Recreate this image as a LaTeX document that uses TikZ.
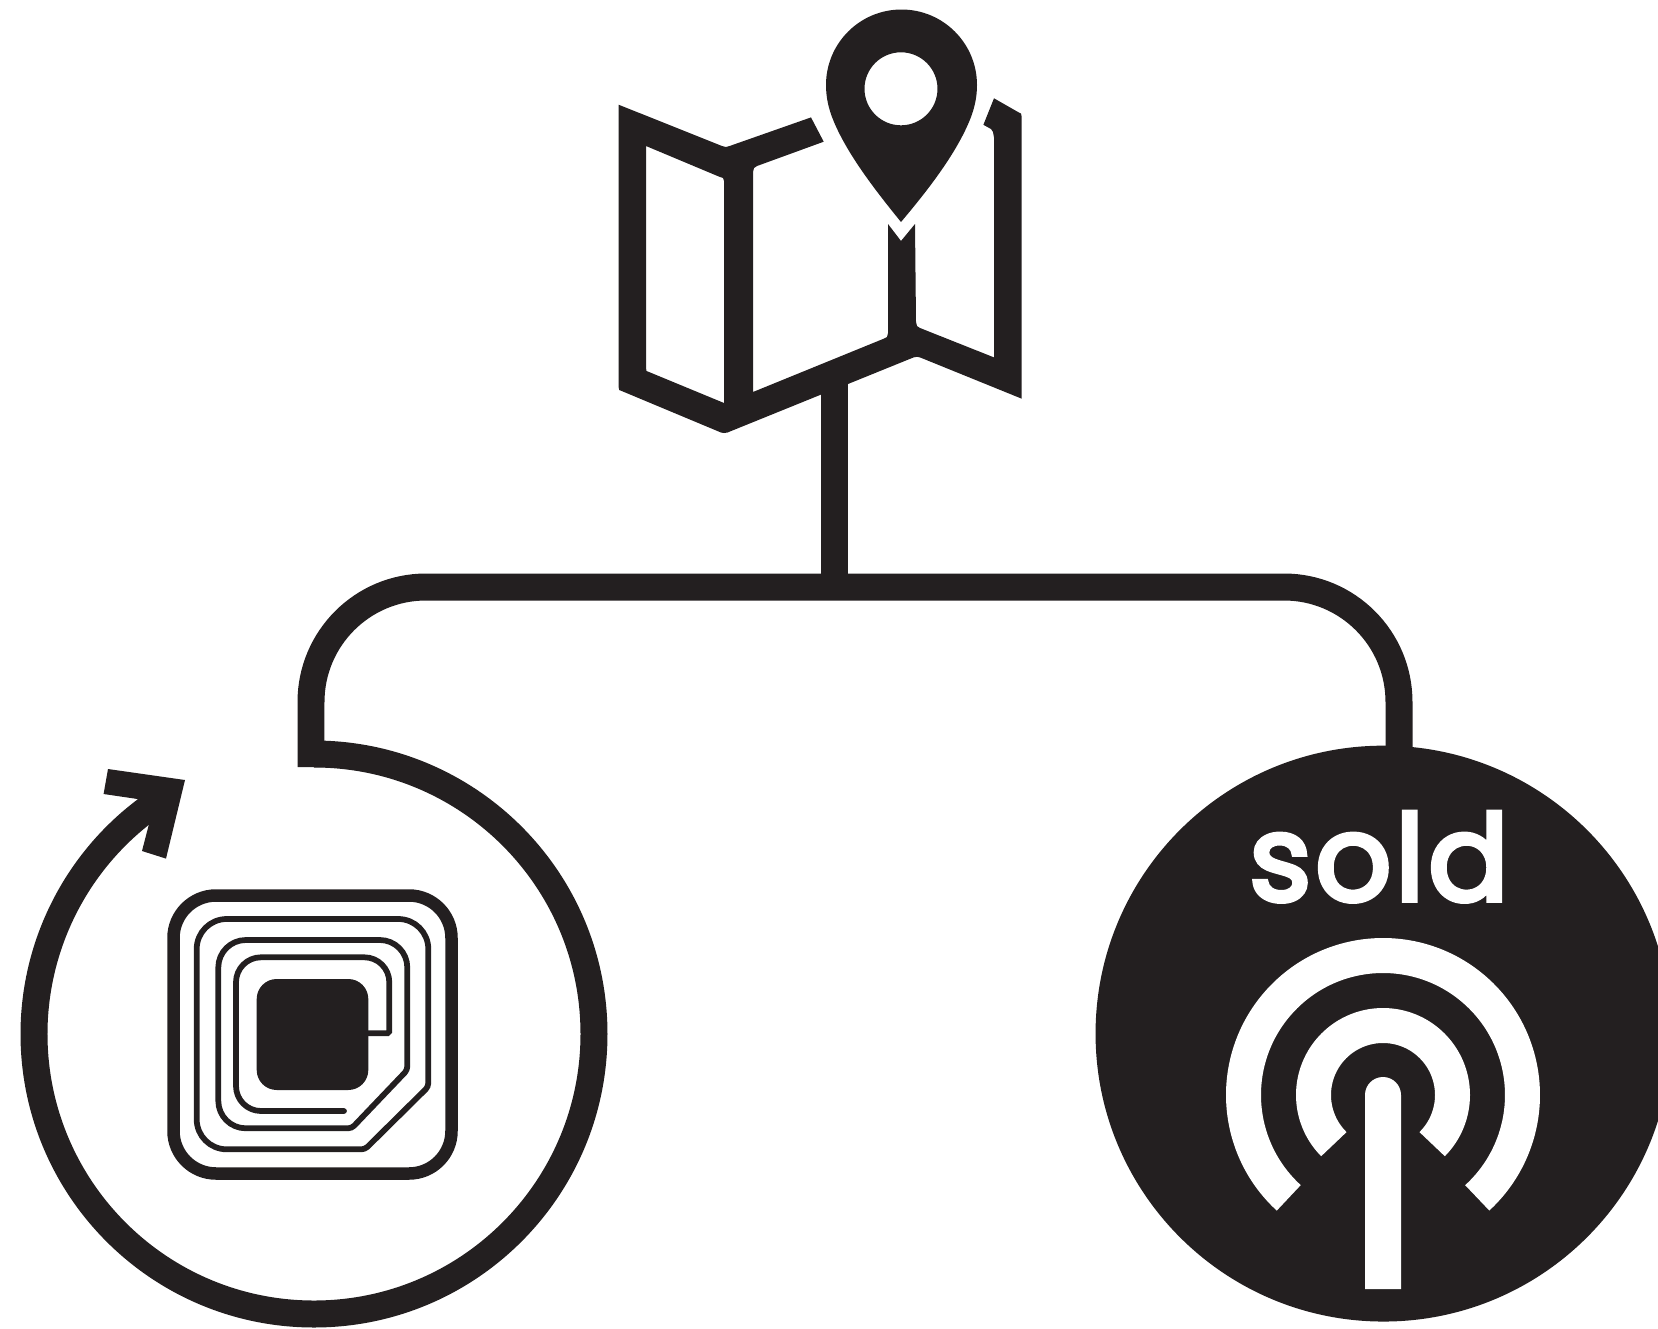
\documentclass[tikz,border=0pt]{standalone}
\usepackage{fontspec}
\usetikzlibrary{arrows.meta,calc,positioning}
\newfontfamily\soldfont[FakeBold=4,LetterSpace=3]{Poppins}
\definecolor{ink}{HTML}{231F20}
\tikzset{
  wire/.style={draw=ink,line width=0.54cm},
  inkfill/.style={fill=ink,draw=none},
  coilline/.style={draw=ink,line width=0.115cm,line cap=round},
  wavearc/.style={draw=white,line width=0.7cm}
}
\begin{document}
\begin{tikzpicture}[x=0.02cm,y=-0.02cm]
      \useasboundingbox (0,0) rectangle (1658,1329);
      % Map with folds
      \fill[ink,even odd rule] (618.6,104.7) -- (722,146) -- (726,147) -- (729.6,146) -- (811,117.4) -- (823.7,141.7)
        -- (757,166) -- (754,168) -- (753,172) -- (753,392) -- (883,339) -- (887,337) -- (888,333) -- (888,224) -- (901,241)
        -- (915,224) -- (916,322) -- (917,326) -- (920,328) -- (994,357.4) -- (994,137.5) -- (993,132) -- (991,129) -- (983.4,124.8)
        -- (994,98.3) -- (1018,112) -- (1021,113.5) -- (1021.5,116) -- (1021.5,398.6) -- (920,357.4) -- (917,356.8) -- (913.6,357.4)
        -- (848,384) -- (820,395) -- (727.5,432.5) -- (724,433) -- (721,432.5) -- (621.7,391) -- (619.2,390) -- (618.6,387) -- cycle
        (646,146) -- (719,176.6) -- (723,178) -- (724,181) -- (724,403) -- (649,372) -- (646.5,371) -- (646,368) -- cycle;
      % Pin on the map
      \fill[ink,even odd rule] (901,222) .. controls (875,190) and (848,155) .. (834,122)
        .. controls (828,108) and (826,96) .. (826,85) arc (180:360:75.5)
        .. controls (977,96) and (975,108) .. (969,122) .. controls (955,155) and (928,190) .. (901,222) -- cycle
        (901,88.8) circle (36.5);

      % Connector coordinates
      \coordinate (mapfoot) at (834,380);
      \coordinate (junction) at (834,587);
      \coordinate (loopstart) at (311,767);
      \coordinate (tagentry) at (1399,770);

      % Sold tag
      \node[circle,inkfill,minimum size=11.52cm,inner sep=0pt] (soldtag) at (1383.5,1033.6) {};
      \node[anchor=base,text=white,inner sep=0pt,font=\soldfont\fontsize{68}{68}\selectfont] (soldlabel) at (1379,900.5) {sold};

      % Branches
      \draw[wire] (mapfoot) -- (junction);
      \draw[wire,rounded corners=2.3cm] (loopstart) |- (junction) -| (tagentry);

      % Loop arrow
      \draw[wire] (314,754) arc (-90:234:280);
      \fill[ink] (108,769) -- (185,780) -- (166,858.6) -- (142,851) -- (149,824) -- (137.5,799) -- (103.6,794) -- cycle;

      % Tag coil
      \draw[draw=ink,line width=0.25cm,rounded corners=0.85cm] (173.5,895.5) rectangle (451.5,1173.5);
      \draw[coilline,rounded corners=0.6cm] (196.7,1090) -- (196.7,919) -- (428.3,919)
        [rounded corners=2pt] -- (428.3,1086.7) -- (365,1149.3)
        [rounded corners=0.6cm] -- (196.7,1149.3) -- cycle;
      \draw[coilline,rounded corners=0.55cm] (218.3,1050) -- (218.3,940) -- (407.3,940)
        [rounded corners=2pt] -- (407.3,1070) -- (351.7,1128.3)
        [rounded corners=0.55cm] -- (218.3,1128.3) -- cycle;
      \draw[coilline,rounded corners=1pt] (368,1033.3) -- (389.3,1033.3)
        [rounded corners=0.5cm] -- (389.3,957.3) -- (236,957.3) -- (236,1111) -- (344,1111);
      \fill[ink,rounded corners=0.4cm] (256.7,979) rectangle (368.3,1090);

      % Waves and stem
      \draw[wavearc] ($(1383,1095)+(132.5:139.5)$) arc (132.5:407.5:139.5);
      \draw[wavearc] ($(1383,1095)+(135:69.5)$) arc (135:405:69.5);
      \fill[white] (1365,1289) -- (1365,1095) arc (180:360:18) -- (1401,1289) -- cycle;
    \end{tikzpicture}
\end{document}
